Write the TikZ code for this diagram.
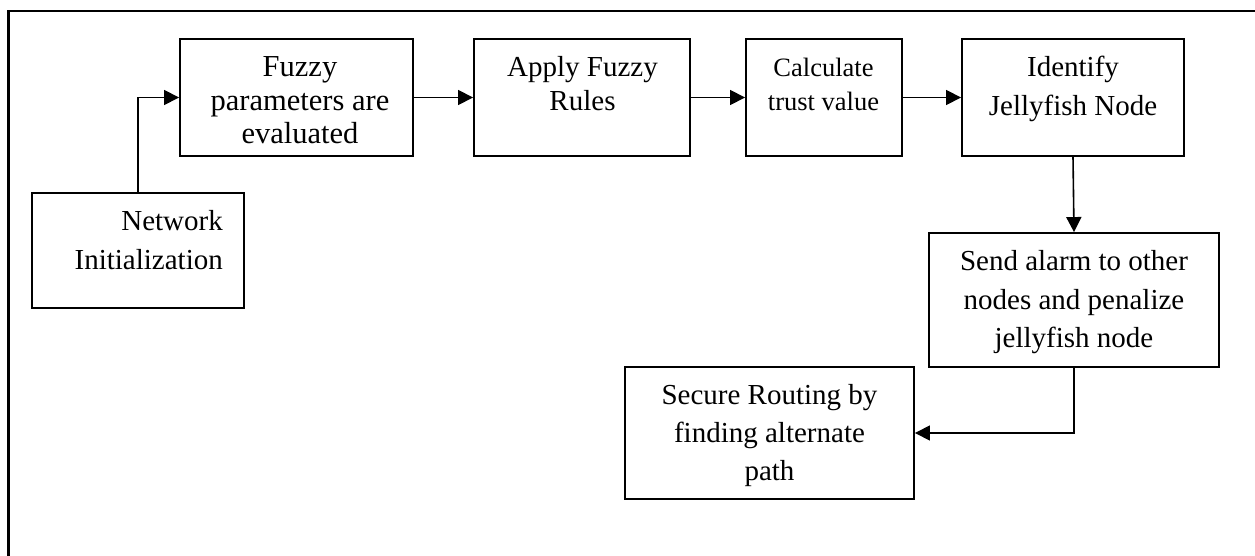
\documentclass[tikz,border=0pt]{standalone}
\usepackage{fontspec}
\setmainfont{Liberation Serif}
\usetikzlibrary{arrows.meta}
\begin{document}
\begin{tikzpicture}[x=1pt,y=-1pt,
  box/.style={draw, line width=1.9pt, inner sep=0pt},
  lbl/.style={inner sep=0pt, align=center, anchor=north},
  conn/.style={line width=1.6pt, -{Triangle[length=15pt,width=15pt]}},
  frameline/.style={line width=2.6pt}]
\useasboundingbox (0,0) rectangle (1255,556);
\draw[frameline] (8.5,556) -- (8.5,11) -- (1255,11);
% boxes
\node[box, minimum width=212pt, minimum height=115pt] (net) at (138,250.5) {};
\node[box, minimum width=233pt, minimum height=117pt] (fuzzy) at (296.5,97.5) {};
\node[box, minimum width=216pt, minimum height=117pt] (apply) at (582,97.5) {};
\node[box, minimum width=156pt, minimum height=117pt] (calc) at (824,97.5) {};
\node[box, minimum width=222pt, minimum height=117pt] (ident) at (1073,97.5) {};
\node[box, minimum width=290pt, minimum height=134pt] (send) at (1074,300) {};
\node[box, minimum width=289pt, minimum height=132pt] (secure) at (769.5,433) {};
% texts
\node[lbl, anchor=north east, align=right, font=\fontsize{29}{39}\selectfont] (tnet) at (223,210.2) {Network\\Initialization};
\node[lbl, font=\fontsize{30.5}{33.5}\selectfont] (tfuzzy) at (300,56.8) {Fuzzy\\parameters are\\evaluated};
\node[lbl, font=\fontsize{29}{34}\selectfont] (tapply) at (582.5,56.2) {Apply Fuzzy\\Rules};
\node[lbl, font=\fontsize{26.5}{34}\selectfont] (tcalc) at (823.5,57.9) {Calculate\\trust value};
\node[lbl, font=\fontsize{29}{39}\selectfont] (tident) at (1073,56.2) {Identify\\Jellyfish Node};
\node[lbl, font=\fontsize{29}{38.5}\selectfont] (tsend) at (1074,250.2) {Send alarm to other\\nodes and penalize\\jellyfish node};
\node[lbl, font=\fontsize{29}{38}\selectfont] (tsecure) at (769.5,384.5) {Secure Routing by\\finding alternate\\path};
% connectors
\draw[conn] (net.north) |- (fuzzy.west);
\draw[conn] (fuzzy.east) -- (apply.west);
\draw[conn] (apply.east) -- (calc.west);
\draw[conn] (calc.east) -- (ident.west);
\draw[conn] (ident.south) -- (send.north);
\draw[conn] (send.south) |- (secure.east);
\end{tikzpicture}
\end{document}
